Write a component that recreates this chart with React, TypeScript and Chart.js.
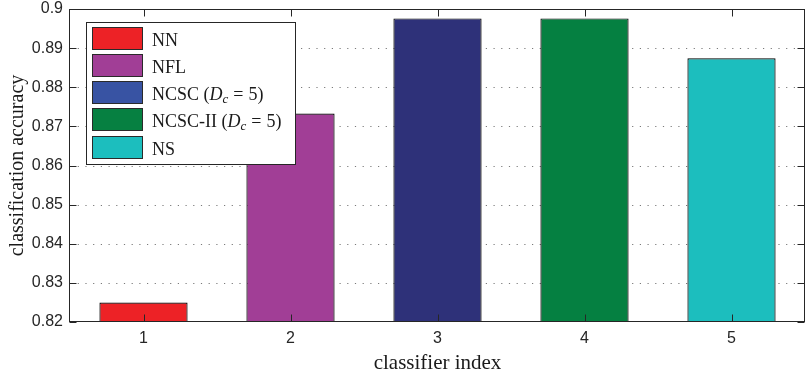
import React, { useEffect, useRef } from 'react';
import { Chart, registerables } from 'chart.js';

Chart.register(...registerables);

// ---- data ----
const categories = ['1', '2', '3', '4', '5'];
const methodNames = ['NN', 'NFL', 'NCSC', 'NCSC-II', 'NS'];
const methodHasDc = [false, false, true, true, false];
const dcValue = '5';
const accuracy = [0.825, 0.8733, 0.8976, 0.8976, 0.8874];
const barColors = ['#ED2226', '#A13E96', '#2E3179', '#058041', '#1CBEBE'];
const legendColors = ['#ED2226', '#A13E96', '#3853A3', '#068041', '#1CBEBE'];
const yTicks = [0.82, 0.83, 0.84, 0.85, 0.86, 0.87, 0.88, 0.89, 0.9];
const xTitle = 'classifier index';
const yTitle = 'classification accuracy';

const AXIS_COLOR = '#262626';
const SERIF = '"Liberation Serif", "DejaVu Serif", serif';
const SANS = '"Liberation Sans", Arial, sans-serif';

const framePlugin = {
  id: 'matlabFrame',
  beforeDatasetsDraw(chart: any) {
    const { ctx, chartArea } = chart;
    const y = chart.scales.y;
    ctx.save();
    ctx.strokeStyle = '#7a7a7a';
    ctx.lineWidth = 1;
    ctx.setLineDash([1.2, 6.5]);
    yTicks.forEach((v) => {
      if (v <= yTicks[0] || v >= yTicks[yTicks.length - 1]) return;
      const py = Math.round(y.getPixelForValue(v)) + 0.5;
      ctx.beginPath();
      ctx.moveTo(chartArea.left, py);
      ctx.lineTo(chartArea.right, py);
      ctx.stroke();
    });
    ctx.restore();
  },
  afterDatasetsDraw(chart: any) {
    const { ctx, chartArea } = chart;
    const x = chart.scales.x;
    const y = chart.scales.y;
    const L = Math.round(chartArea.left) - 0.5;
    const R = Math.round(chartArea.right) - 0.5;
    const T = Math.round(chartArea.top) + 0.5;
    const B = Math.round(chartArea.bottom) - 0.5;
    const tl = 7;
    ctx.save();
    ctx.strokeStyle = AXIS_COLOR;
    ctx.lineWidth = 1;
    ctx.setLineDash([]);
    ctx.strokeRect(L, T, R - L, B - T);
    ctx.beginPath();
    categories.forEach((_, i) => {
      const px = Math.round(x.getPixelForValue(i)) + 0.5;
      ctx.moveTo(px, B);
      ctx.lineTo(px, B - tl);
      ctx.moveTo(px, T);
      ctx.lineTo(px, T + tl);
    });
    yTicks.forEach((v) => {
      const py = Math.round(y.getPixelForValue(v)) + 0.5;
      ctx.moveTo(L, py);
      ctx.lineTo(L + tl, py);
      ctx.moveTo(R, py);
      ctx.lineTo(R - tl, py);
    });
    ctx.stroke();
    ctx.restore();
  },
  afterDraw(chart: any) {
    const { ctx } = chart;
    const bx = 86.5, by = 22.5, bw = 209, bh = 142;
    const sx = 92.5, sw = 50, sh = 22, row = 27.3, sy0 = 26.5;
    const tx = 152;
    ctx.save();
    ctx.fillStyle = '#ffffff';
    ctx.fillRect(bx, by, bw, bh);
    ctx.strokeStyle = AXIS_COLOR;
    ctx.lineWidth = 1;
    ctx.strokeRect(bx, by, bw, bh);
    methodNames.forEach((name, i) => {
      const top = Math.round(sy0 + i * row) + 0.5;
      ctx.fillStyle = legendColors[i];
      ctx.fillRect(sx, top, sw, sh);
      ctx.strokeStyle = '#2a2a2a';
      ctx.strokeRect(sx, top, sw, sh);
      const base = top + 18;
      ctx.fillStyle = '#1a1a1a';
      ctx.textBaseline = 'alphabetic';
      ctx.textAlign = 'left';
      ctx.font = `18px ${SERIF}`;
      let cx = tx;
      ctx.fillText(name, cx, base);
      cx += ctx.measureText(name).width;
      if (methodHasDc[i]) {
        const s1 = ' (';
        ctx.fillText(s1, cx, base);
        cx += ctx.measureText(s1).width;
        ctx.font = `italic 18px ${SERIF}`;
        ctx.fillText('D', cx, base);
        cx += ctx.measureText('D').width;
        ctx.font = `italic 13px ${SERIF}`;
        ctx.fillText('c', cx, base + 3);
        cx += ctx.measureText('c').width + 5;
        ctx.font = `18px ${SERIF}`;
        ctx.fillText('=', cx, base);
        cx += ctx.measureText('=').width + 5;
        const s2 = dcValue + ')';
        ctx.fillText(s2, cx, base);
      }
    });
    ctx.restore();
  },
};

export default function App() {
  const canvasRef = useRef<HTMLCanvasElement | null>(null);

  useEffect(() => {
    if (!canvasRef.current) return;
    const chart = new Chart(canvasRef.current, {
      type: 'bar',
      data: {
        labels: categories,
        datasets: [
          {
            label: 'accuracy',
            data: accuracy,
            backgroundColor: barColors,
            borderColor: '#000000',
            borderWidth: 1.2,
            borderSkipped: false,
            barPercentage: 0.6,
            categoryPercentage: 1.0,
          },
        ],
      },
      options: {
        animation: false,
        responsive: true,
        maintainAspectRatio: false,
        layout: { padding: { top: 9, right: 1, left: 0, bottom: 0 } },
        plugins: {
          legend: { display: false },
          tooltip: { enabled: false },
        },
        scales: {
          x: {
            type: 'category',
            grid: { display: false, drawTicks: false },
            border: { display: false },
            ticks: {
              color: AXIS_COLOR,
              font: { family: SANS, size: 16 },
              padding: 7,
            },
            title: {
              display: true,
              text: xTitle,
              color: '#1a1a1a',
              font: { family: SERIF, size: 21 },
              padding: { top: 0, bottom: 0 },
            },
            afterFit: (s: any) => {
              s.height = 54;
              s.paddingLeft = 0;
              s.paddingRight = 0;
            },
          },
          y: {
            type: 'linear',
            min: 0.82,
            max: 0.9,
            grid: { display: false, drawTicks: false },
            border: { display: false },
            afterBuildTicks: (s: any) => {
              s.ticks = yTicks.map((v) => ({ value: v }));
            },
            ticks: {
              color: AXIS_COLOR,
              font: { family: SANS, size: 16 },
              padding: 7,
              callback: (v: any) => String(Number(Number(v).toFixed(2))),
            },
            title: {
              display: true,
              text: yTitle,
              color: '#1a1a1a',
              font: { family: SERIF, size: 20 },
              padding: { top: 6, bottom: 0 },
            },
            afterFit: (s: any) => {
              s.width = 70;
              s.paddingTop = 0;
              s.paddingBottom = 0;
            },
          },
        },
      },
      plugins: [framePlugin],
    });
    return () => chart.destroy();
  }, []);

  return (
    <div style={{ position: 'fixed', left: 0, top: 0, width: 806, height: 376, background: '#fff' }}>
      <canvas ref={canvasRef} />
    </div>
  );
}
